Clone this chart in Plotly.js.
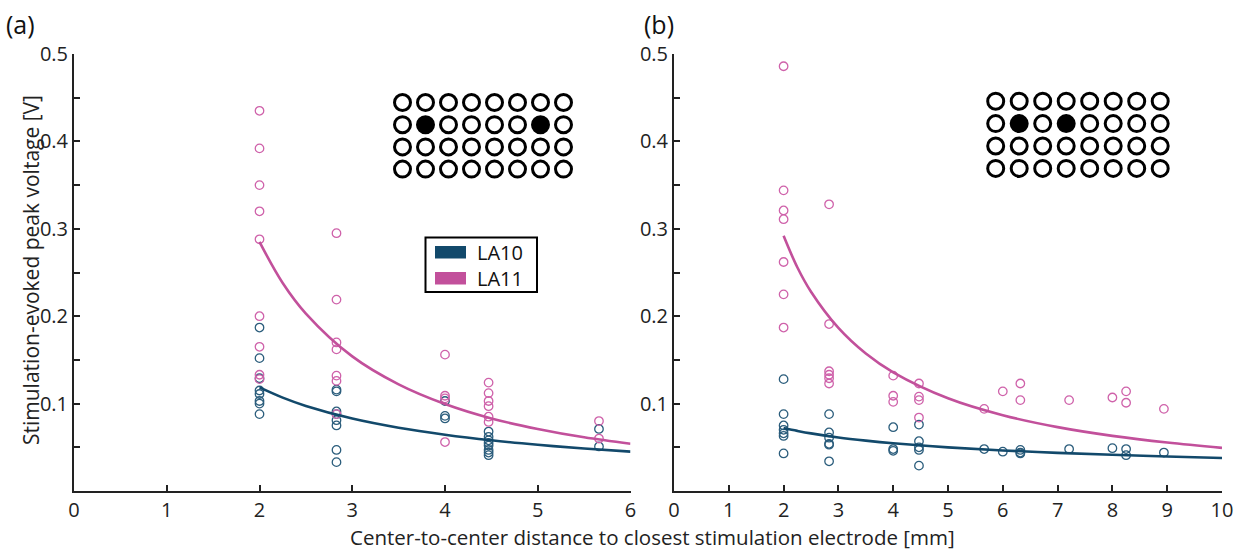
<!DOCTYPE html>
<html>
<head>
<meta charset="utf-8">
<script src="https://cdn.plot.ly/plotly-3.0.1.min.js"></script>
<style>html,body{margin:0;padding:0;background:#fff;}#chart{width:1256px;height:553px;}</style>
</head>
<body>
<div id="chart"></div>
<script>
// ---------- Data ----------
// Panel (a)
const aLA11_x = [2,2,2,2,2,2,2,2,2, 2.83,2.83,2.83,2.83,2.83,2.83,2.83, 4,4,4,4, 4.47,4.47,4.47,4.47,4.47,4.47, 5.66,5.66];
const aLA11_y = [0.435,0.392,0.350,0.320,0.288,0.200,0.165,0.133,0.128, 0.295,0.219,0.170,0.162,0.132,0.126,0.088, 0.156,0.109,0.106,0.056, 0.124,0.112,0.103,0.097,0.085,0.079, 0.080,0.060];
const aLA10_x = [2,2,2,2,2,2,2,2, 2.83,2.83,2.83,2.83,2.83,2.83,2.83,2.83, 4,4,4, 4.47,4.47,4.47,4.47,4.47,4.47,4.47,4.47, 5.66,5.66];
const aLA10_y = [0.187,0.152,0.129,0.115,0.111,0.103,0.100,0.088, 0.116,0.114,0.091,0.088,0.081,0.075,0.047,0.033, 0.103,0.086,0.083, 0.068,0.062,0.058,0.055,0.052,0.047,0.044,0.041, 0.071,0.051];
const aFit_x = [2,2.25,2.5,3,3.5,4,4.5,5,5.5,6];
const aFitLA11_y = [0.285,0.238,0.203,0.154,0.122,0.0995,0.083,0.071,0.0614,0.054];
const aFitLA10_y = [0.1185,0.1068,0.0973,0.0829,0.0724,0.0644,0.058,0.0529,0.0486,0.045];

// Panel (b)
const bLA11_x = [2,2,2,2,2,2,2, 2.83,2.83,2.83,2.83,2.83,2.83, 4,4,4, 4.47,4.47,4.47,4.47, 5.66, 6, 6.32,6.32, 7.21, 8, 8.25,8.25, 8.94];
const bLA11_y = [0.486,0.344,0.321,0.311,0.262,0.225,0.187, 0.328,0.191,0.137,0.133,0.129,0.123, 0.132,0.109,0.102, 0.123,0.108,0.104,0.084, 0.094, 0.114, 0.123,0.104, 0.104, 0.107, 0.114,0.101, 0.094];
const bLA10_x = [2,2,2,2,2,2,2, 2.83,2.83,2.83,2.83,2.83,2.83, 4,4,4, 4.47,4.47,4.47,4.47,4.47, 5.66, 6, 6.32,6.32,6.32, 7.21, 8, 8.25,8.25, 8.94];
const bLA10_y = [0.128,0.088,0.075,0.070,0.066,0.063,0.043, 0.088,0.067,0.061,0.054,0.053,0.034, 0.073,0.048,0.046, 0.076,0.057,0.050,0.047,0.029, 0.048, 0.045, 0.047,0.044,0.043, 0.048, 0.049, 0.048,0.041, 0.044];
const bFit_x = [2,2.25,2.5,3,3.5,4,5,6,7,8,9,10];
const bFitLA11_y = [0.292,0.256,0.228,0.1866,0.1573,0.1358,0.1061,0.0867,0.0731,0.0631,0.0554,0.0493];
const bFitLA10_y = [0.072,0.0688,0.0659,0.0612,0.0576,0.0546,0.0499,0.0464,0.0436,0.0414,0.0395,0.0378];

const seriesNames = ['LA10','LA11'];
const aXTicks = [0,1,2,3,4,5,6];
const bXTicks = [0,1,2,3,4,5,6,7,8,9,10];
const yTickVals = [0.05,0.1,0.15,0.2,0.25,0.3,0.35,0.4,0.45,0.5];
const yTickText = ['','0.1','','0.2','','0.3','','0.4','','0.5'];

// ---------- Style ----------
const W = 1256, H = 553;
const C10 = '#12496b', C11 = '#c2509b';
const M10 = '#2b5d7c', M11 = '#cf62aa';
const FONT = 'Open Sans, sans-serif';
const AX = '#222';
const px = x => x / W;
const py = y => 1 - y / H;

function pts(x, y, col, xa, ya, name) {
  return {x, y, xaxis: xa, yaxis: ya, type: 'scatter', mode: 'markers', name, showlegend: false,
    marker: {symbol: 'circle-open', size: 8.5, color: col, line: {width: 1.3, color: col}}, hoverinfo: 'x+y'};
}
function fit(x, y, col, xa, ya, name) {
  return {x, y, xaxis: xa, yaxis: ya, type: 'scatter', mode: 'lines', name, showlegend: false,
    line: {color: col, width: 2.6, shape: 'spline', smoothing: 1}, hoverinfo: 'skip'};
}

const data = [
  pts(aLA10_x, aLA10_y, M10, 'x', 'y', seriesNames[0]),
  pts(aLA11_x, aLA11_y, M11, 'x', 'y', seriesNames[1]),
  fit(aFit_x, aFitLA11_y, C11, 'x', 'y', seriesNames[1] + ' fit'),
  fit(aFit_x, aFitLA10_y, C10, 'x', 'y', seriesNames[0] + ' fit'),
  pts(bLA10_x, bLA10_y, M10, 'x2', 'y2', seriesNames[0]),
  pts(bLA11_x, bLA11_y, M11, 'x2', 'y2', seriesNames[1]),
  fit(bFit_x, bFitLA11_y, C11, 'x2', 'y2', seriesNames[1] + ' fit'),
  fit(bFit_x, bFitLA10_y, C10, 'x2', 'y2', seriesNames[0] + ' fit')
];

const yDomain = [py(491), py(54)];
function xAxis(domain, range, ticks, anchor) {
  return {domain, range, anchor, tickvals: ticks, ticktext: ticks.map(String), ticks: 'inside', ticklen: 6, tickwidth: 2,
    tickcolor: AX, showline: true, linewidth: 2, linecolor: AX, showgrid: false, zeroline: false,
    tickfont: {family: FONT, size: 20, color: AX}, fixedrange: true};
}
function yAxis(anchor) {
  return {domain: yDomain, range: [0, 0.5], anchor, tickvals: yTickVals, ticktext: yTickText, ticks: 'inside', ticklen: 6,
    tickwidth: 2, tickcolor: AX, showline: true, linewidth: 2, linecolor: AX, showgrid: false, zeroline: false,
    tickfont: {family: FONT, size: 20, color: AX}, fixedrange: true};
}

// ---------- Decorations: electrode grids & legend ----------
const shapes = [];
function grid(x0, dx, y0, dy, filled) {
  for (let r = 0; r < 4; r++) {
    for (let c = 0; c < 8; c++) {
      const cx = x0 + c * dx, cy = y0 + r * dy, rad = 8;
      const isF = filled.some(f => f[0] === r && f[1] === c);
      shapes.push({type: 'circle', xref: 'paper', yref: 'paper',
        x0: px(cx - rad), x1: px(cx + rad), y0: py(cy + rad), y1: py(cy - rad),
        line: {color: '#000', width: 3}, fillcolor: isF ? '#000' : 'rgba(0,0,0,0)'});
    }
  }
}
grid(402.5, 23.0, 102.5, 22.2, [[1,1],[1,6]]);
grid(995.7, 23.5, 101.2, 22.4, [[1,1],[1,3]]);

// legend box
shapes.push({type: 'rect', xref: 'paper', yref: 'paper', x0: px(425.5), x1: px(537), y0: py(292), y1: py(237.5),
  line: {color: '#000', width: 2}, fillcolor: '#fff'});
shapes.push({type: 'rect', xref: 'paper', yref: 'paper', x0: px(435), x1: px(466), y0: py(258.5), y1: py(246),
  line: {width: 0}, fillcolor: C10});
shapes.push({type: 'rect', xref: 'paper', yref: 'paper', x0: px(435), x1: px(466), y0: py(284.5), y1: py(272),
  line: {width: 0}, fillcolor: C11});

const annotations = [
  {text: seriesNames[0], xref: 'paper', yref: 'paper', x: px(475), y: py(252.5), xanchor: 'left', yanchor: 'middle', showarrow: false,
    font: {family: FONT, size: 20, color: '#111'}},
  {text: seriesNames[1], xref: 'paper', yref: 'paper', x: px(475), y: py(278.5), xanchor: 'left', yanchor: 'middle', showarrow: false,
    font: {family: FONT, size: 20, color: '#111'}},
  {text: '(a)', xref: 'paper', yref: 'paper', x: px(4), y: py(24), xanchor: 'left', yanchor: 'middle', showarrow: false,
    font: {family: FONT, size: 25, color: '#111'}},
  {text: '(b)', xref: 'paper', yref: 'paper', x: px(642), y: py(24), xanchor: 'left', yanchor: 'middle', showarrow: false,
    font: {family: FONT, size: 25, color: '#111'}},
  {text: 'Stimulation-evoked peak voltage [V]', xref: 'paper', yref: 'paper', x: px(31), y: py(270), textangle: -90,
    xanchor: 'center', yanchor: 'middle', showarrow: false, font: {family: FONT, size: 21, color: '#222'}},
  {text: 'Center-to-center distance to closest stimulation electrode [mm]', xref: 'paper', yref: 'paper', x: px(652), y: py(537),
    xanchor: 'center', yanchor: 'middle', showarrow: false, font: {family: FONT, size: 20.5, color: '#222'}}
];

const layout = {
  width: W, height: H, margin: {l: 0, r: 0, t: 0, b: 0, pad: 0},
  paper_bgcolor: '#fff', plot_bgcolor: 'rgba(0,0,0,0)', showlegend: false,
  font: {family: FONT, color: '#222'},
  xaxis: xAxis([px(74), px(630.5)], [0, 6], aXTicks, 'y'),
  yaxis: yAxis('x'),
  xaxis2: xAxis([px(674), px(1222)], [0, 10], bXTicks, 'y2'),
  yaxis2: yAxis('x2'),
  shapes, annotations
};

Plotly.newPlot('chart', data, layout, {staticPlot: true, displayModeBar: false});
</script>
</body>
</html>
